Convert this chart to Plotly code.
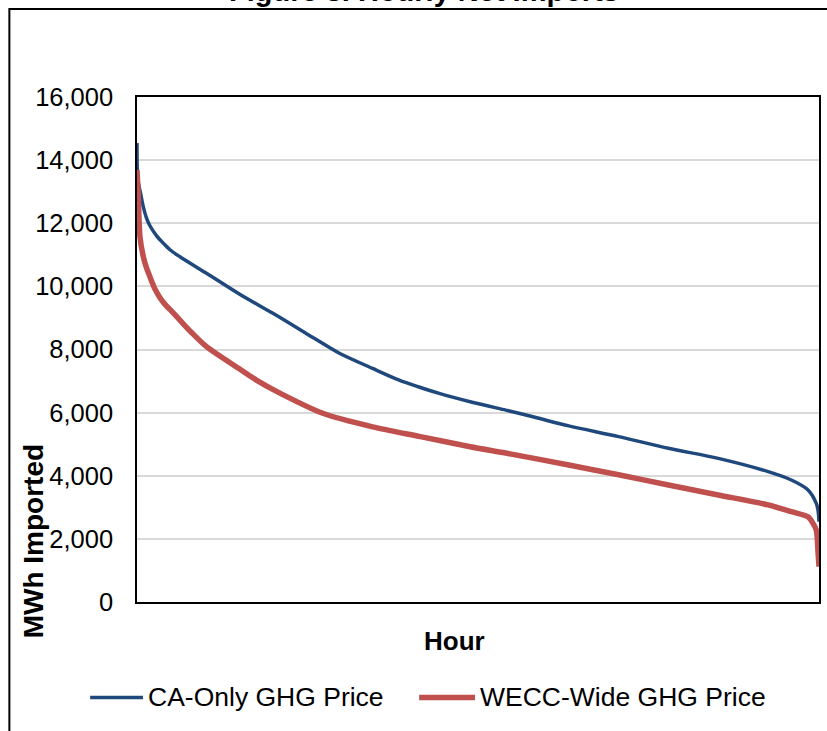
import plotly.graph_objects as go

# ---- data ----
blue_hours = [0, 10, 45, 81, 120, 166, 250, 337, 423, 551, 893, 1319, 1746, 2173, 2600,
              3026, 3368, 3612, 3881, 4280, 4735, 4905, 5161, 5546, 6186, 6826,
              7466, 8107, 8405, 8619, 8725, 8748, 8760]
blue_vals = [14540, 13400, 12960, 12520, 12180, 11920, 11610, 11370, 11160, 10940, 10415,
             9750, 9145, 8510, 7880, 7400, 7030, 6820, 6610, 6345, 6080, 5980, 5820,
             5580, 5240, 4870, 4550, 4130, 3865, 3550, 3125, 2900, 2545]

red_hours = [0, 17, 38, 81, 120, 166, 230, 295, 360, 423, 551, 700, 893, 1319, 1533, 1810,
             2386, 3026, 3640, 4280, 4735, 5546, 6186, 6826, 7466, 8107, 8405, 8619,
             8683, 8725, 8747, 8760]
red_vals = [13690, 12840, 11570, 10940, 10600, 10305, 9920, 9640, 9430, 9270, 8930, 8540,
            8090, 7380, 7030, 6650, 5980, 5550, 5240, 4920, 4720, 4340, 4030, 3705,
            3390, 3075, 2860, 2700, 2490, 2280, 1600, 1120]

series_names = ["CA-Only GHG Price", "WECC-Wide GHG Price"]
y_ticks = [0, 2000, 4000, 6000, 8000, 10000, 12000, 14000, 16000]

BLUE = "#1F497D"
RED = "#C0504D"
FONT = "Liberation Sans, Arial, sans-serif"

W, H = 827, 731
L, R, T, B = 137, 6, 97, 129
PW = W - L - R
PH = H - T - B


def px_x(p):
    return (p - L) / PW


def px_y(p):
    return (H - B - p) / PH


fig = go.Figure()
fig.add_trace(go.Scatter(x=blue_hours, y=blue_vals, mode="lines", name=series_names[0],
                         line=dict(color=BLUE, width=3.5, shape="spline", smoothing=0.8)))
fig.add_trace(go.Scatter(x=red_hours, y=red_vals, mode="lines", name=series_names[1],
                         line=dict(color=RED, width=5.5, shape="spline", smoothing=0.8)))

fig.update_layout(
    width=W, height=H,
    margin=dict(l=L, r=R, t=T, b=B),
    paper_bgcolor="white", plot_bgcolor="white",
    showlegend=False,
    font=dict(family=FONT, color="black", size=25),
    xaxis=dict(range=[0, 8760], showticklabels=False, showgrid=False, zeroline=False,
               showline=True, linecolor="black", linewidth=1.5, mirror=True, ticks=""),
    yaxis=dict(range=[0, 16000], tickvals=y_ticks, tickformat=",d", showgrid=True,
               gridcolor="#D9D9D9", gridwidth=1.5, zeroline=False, showline=True,
               linecolor="black", linewidth=1.5, mirror=True, ticks="",
               ticklabelstandoff=17, tickfont=dict(size=25.5, family=FONT)),
)

# outer chart frame
fig.add_shape(type="rect", xref="paper", yref="paper",
              x0=px_x(9), x1=px_x(W + 20), y0=px_y(9), y1=px_y(H + 20),
              line=dict(color="black", width=2), fillcolor="rgba(0,0,0,0)", layer="below")

# title (partially cut at top as in reference)
fig.add_annotation(text="<b>Figure 3. Hourly Net Imports</b>", xref="paper", yref="paper",
                   x=px_x(425), y=px_y(9), xanchor="center", yanchor="bottom",
                   showarrow=False, font=dict(size=29, family=FONT))

# axis titles
fig.add_annotation(text="<b>MWh Imported</b>", xref="paper", yref="paper",
                   x=px_x(33), y=px_y(541), xanchor="center", yanchor="middle",
                   textangle=-90, showarrow=False, font=dict(size=28, family=FONT))
fig.add_annotation(text="<b>Hour</b>", xref="paper", yref="paper",
                   x=px_x(455), y=px_y(641), xanchor="center", yanchor="middle",
                   showarrow=False, font=dict(size=26, family=FONT))

# legend (drawn manually to match long line keys)
legend_items = [(series_names[0], BLUE, 3.5, 90, 143, 146),
                (series_names[1], RED, 5.5, 420, 476, 479)]
for name, col, lw, x0, x1, tx in legend_items:
    fig.add_shape(type="line", xref="paper", yref="paper",
                  x0=px_x(x0), x1=px_x(x1), y0=px_y(697.5), y1=px_y(697.5),
                  line=dict(color=col, width=lw))
    fig.add_annotation(text=name, xref="paper", yref="paper", x=px_x(tx), y=px_y(697),
                       xanchor="left", yanchor="middle", showarrow=False,
                       font=dict(size=26.5, family=FONT))

fig.write_html("out.html")
